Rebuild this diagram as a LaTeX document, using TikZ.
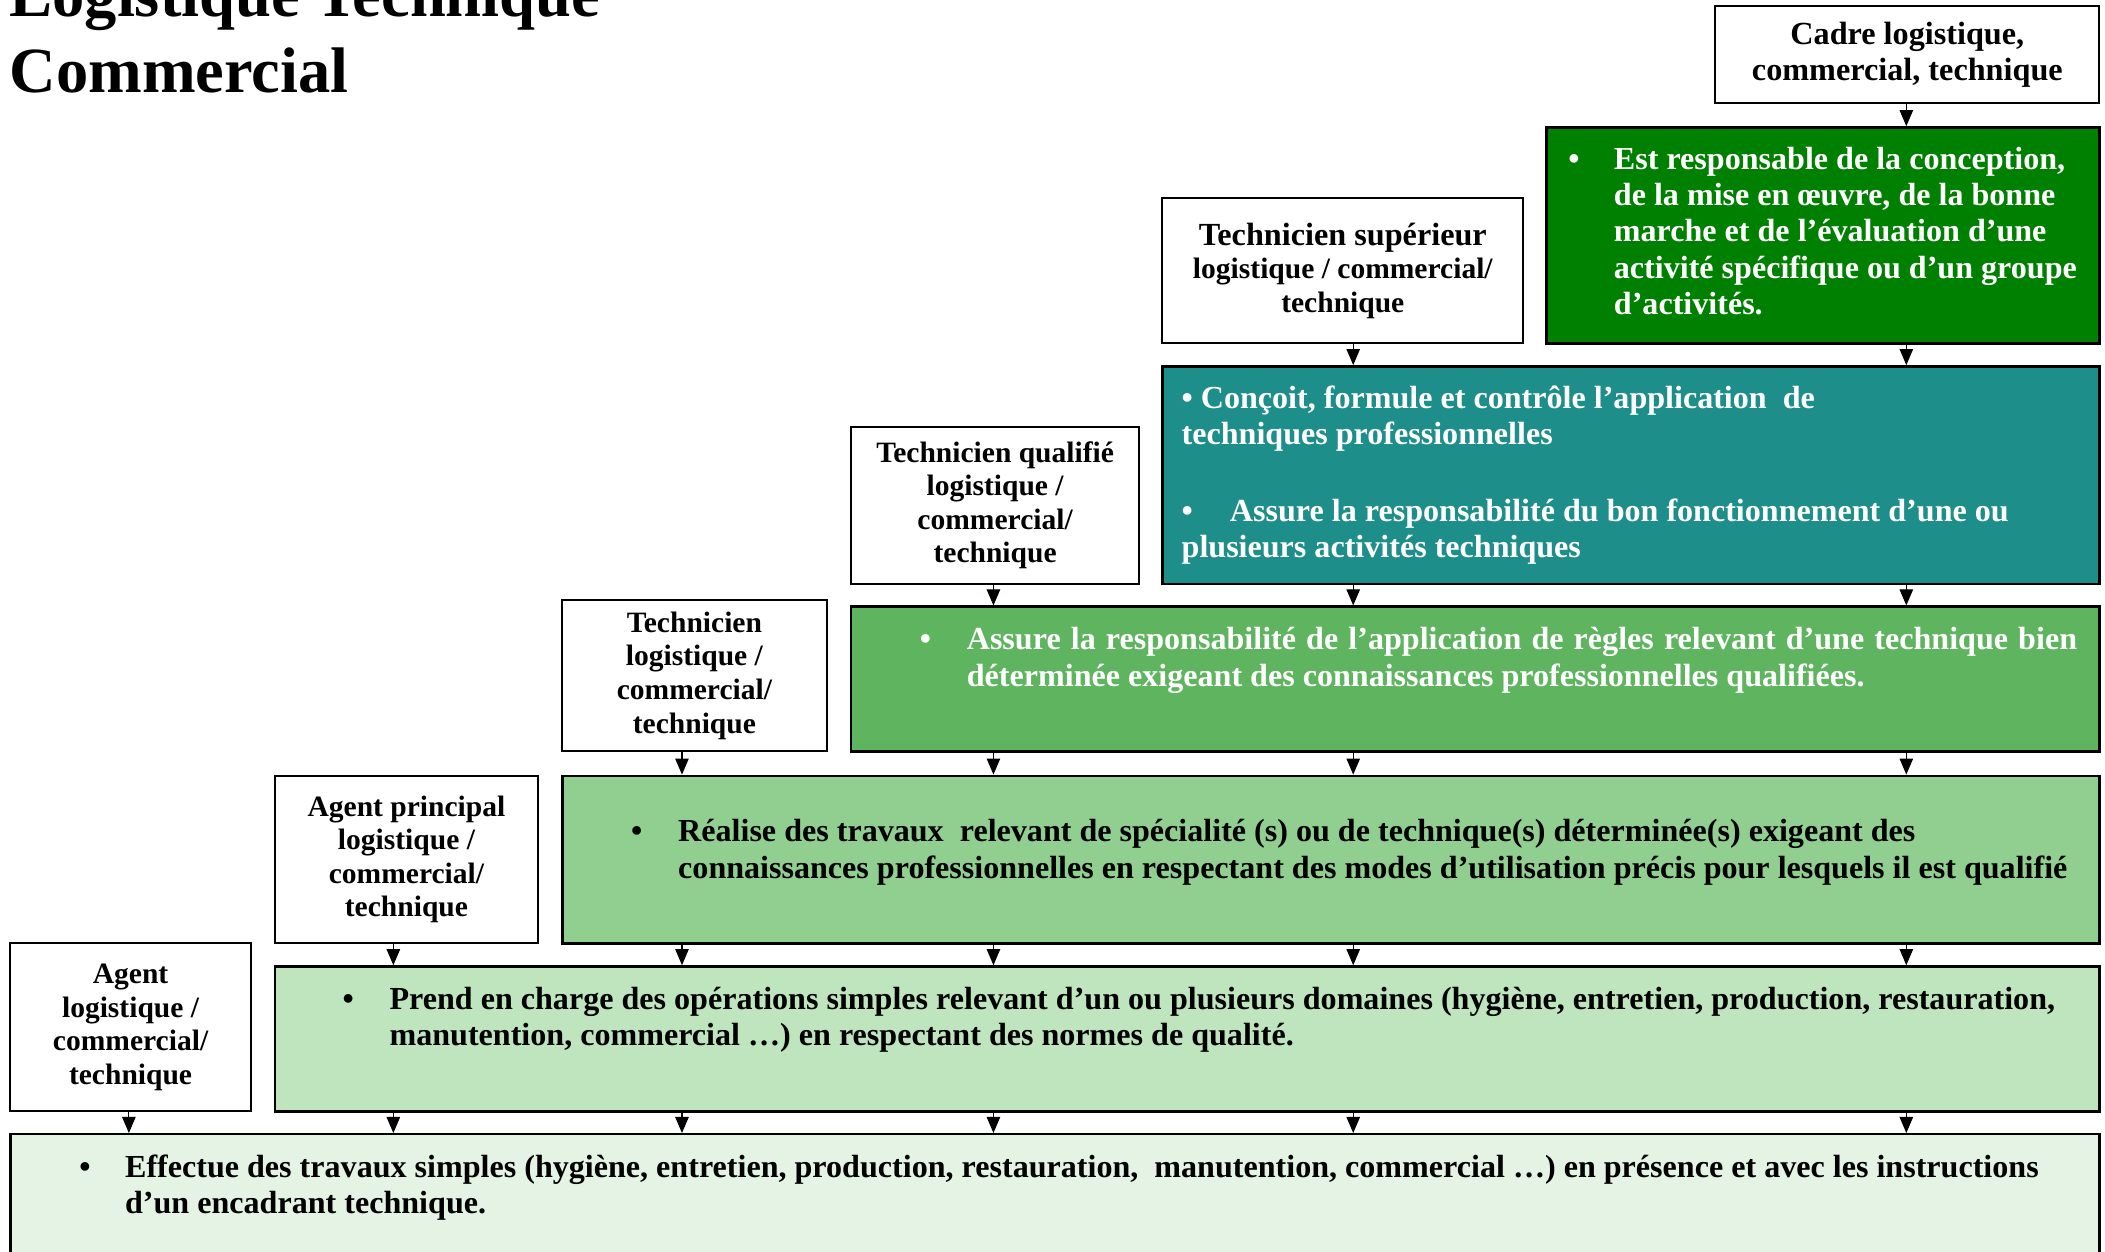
\documentclass[tikz,border=0pt]{standalone}
\usepackage{fontspec}
\setmainfont{Liberation Serif}
\usetikzlibrary{arrows.meta}
\definecolor{dkgreen}{RGB}{0,128,0}
\definecolor{tealbox}{RGB}{30,142,138}
\definecolor{gA}{RGB}{95,180,95}
\definecolor{gB}{RGB}{145,207,145}
\definecolor{gC}{RGB}{190,229,190}
\definecolor{gD}{RGB}{228,243,228}
\begin{document}
\begin{tikzpicture}[x=1pt,y=-1pt,
  lbl/.style={draw=black, line width=1.5pt, fill=white, align=center, inner sep=0pt, anchor=north west,
              font=\bfseries\fontsize{22}{25}\selectfont},
  desc/.style={draw=black, line width=1.8pt, inner sep=0pt, anchor=north west},
  dtext/.style={anchor=north west, inner sep=0pt, align=left, font=\bfseries\fontsize{23.9}{27}\selectfont},
  arr/.style={line width=0.9pt, -{Triangle[width=10pt,length=12pt]}}]
\useasboundingbox (0,0) rectangle (1568,932);
\fill[white] (0,0) rectangle (1568,932);
\clip (0,0) rectangle (1568,932);

% column coordinates
\coordinate (k1) at (96,0);
\coordinate (k2) at (293,0);
\coordinate (k3) at (508,0);
\coordinate (k4) at (740,0);
\coordinate (k5) at (1008,0);
\coordinate (k6) at (1420,0);

% title
\node[anchor=north west, inner sep=0pt, align=left, font=\bfseries\fontsize{48}{57}\selectfont] (title) at (7,-28)
  {\strut Logistique Technique\\Commercial};

% description boxes
\node[desc, fill=dkgreen, minimum width=412pt, minimum height=161pt] (dk) at (1151,94) {};
\node[desc, fill=tealbox, minimum width=698pt, minimum height=162pt] (teal) at (865,272) {};
\node[desc, fill=gA, minimum width=930pt, minimum height=108pt] (ga) at (633,451) {};
\node[desc, fill=gB, minimum width=1145pt, minimum height=125pt] (gb) at (418,577) {};
\node[desc, fill=gC, minimum width=1359pt, minimum height=108pt] (gc) at (204,719) {};
\node[desc, fill=gD, minimum width=1556pt, minimum height=130pt] (gd) at (7,844) {};

% label boxes
\node[lbl, minimum width=286pt, minimum height=72pt, font=\bfseries\fontsize{24}{27}\selectfont] (cadre) at (1277,4)
  {Cadre logistique,\\commercial, technique};
\node[lbl, minimum width=269pt, minimum height=108pt] (tsup) at (865,147)
  {{\fontsize{24}{25}\selectfont Technicien supérieur}\\logistique / commercial/\\technique};
\node[lbl, minimum width=215pt, minimum height=117pt] (tqual) at (633,317)
  {Technicien qualifié\\logistique /\\commercial/\\technique};
\node[lbl, minimum width=197pt, minimum height=113pt] (tech) at (418,446)
  {Technicien\\logistique /\\commercial/\\technique};
\node[lbl, minimum width=196pt, minimum height=125pt] (agp) at (204,577)
  {Agent principal\\logistique /\\commercial/\\technique};
\node[lbl, minimum width=179pt, minimum height=125pt] (agent) at (7,702)
  {Agent\\logistique /\\commercial/\\technique};

% description texts
\node[dtext, text=white] (dkt) at (1168,107)
  {\strut\makebox[34pt][l]{•}Est responsable de la conception,\\
   \hspace*{34pt}de la mise en œuvre, de la bonne\\
   \hspace*{34pt}marche et de l’évaluation d’une\\
   \hspace*{34pt}activité spécifique ou d’un groupe\\
   \hspace*{34pt}d’activités.};
\node[dtext, text=white] (tealt) at (880,285)
  {\strut• Conçoit, formule et contrôle l’application\ \ de\\
   techniques professionnelles\\[30pt]
   \makebox[36pt][l]{•}Assure la responsabilité du bon fonctionnement d’une ou\\
   plusieurs activités techniques};
\node[dtext, text=white] (gat) at (685,465)
  {\strut\makebox[35pt][l]{•}\makebox[827pt][s]{Assure la responsabilité de l’application de règles relevant d’une technique bien}\\
   \hspace*{35pt}déterminée exigeant des connaissances professionnelles qualifiées.};
\node[dtext] (gbt) at (470,608)
  {\strut\makebox[35pt][l]{•}Réalise des travaux\ \ relevant de spécialité (s) ou de technique(s) déterminée(s) exigeant des\\
   \hspace*{35pt}connaissances professionnelles en respectant des modes d’utilisation précis pour lesquels il est qualifié};
\node[dtext] (gct) at (255,733)
  {\strut\makebox[35pt][l]{•}Prend en charge des opérations simples relevant d’un ou plusieurs domaines (hygiène, entretien, production, restauration,\\
   \hspace*{35pt}manutention, commercial …) en respectant des normes de qualité.};
\node[dtext] (gdt) at (59,858)
  {\strut\makebox[34pt][l]{•}Effectue des travaux simples (hygiène, entretien, production, restauration,\ \ manutention, commercial …) en présence et avec les instructions\\
   \hspace*{34pt}d’un encadrant technique.};

% arrows
\draw[arr] (cadre.south -| k6) -- (dk.north -| k6);
\draw[arr] (tsup.south -| k5) -- (teal.north -| k5);
\draw[arr] (dk.south -| k6) -- (teal.north -| k6);
\draw[arr] (tqual.south -| k4) -- (ga.north -| k4);
\draw[arr] (teal.south -| k5) -- (ga.north -| k5);
\draw[arr] (teal.south -| k6) -- (ga.north -| k6);
\draw[arr] (tech.south -| k3) -- (gb.north -| k3);
\draw[arr] (ga.south -| k4) -- (gb.north -| k4);
\draw[arr] (ga.south -| k5) -- (gb.north -| k5);
\draw[arr] (ga.south -| k6) -- (gb.north -| k6);
\draw[arr] (agp.south -| k2) -- (gc.north -| k2);
\draw[arr] (gb.south -| k3) -- (gc.north -| k3);
\draw[arr] (gb.south -| k4) -- (gc.north -| k4);
\draw[arr] (gb.south -| k5) -- (gc.north -| k5);
\draw[arr] (gb.south -| k6) -- (gc.north -| k6);
\draw[arr] (agent.south -| k1) -- (gd.north -| k1);
\draw[arr] (gc.south -| k2) -- (gd.north -| k2);
\draw[arr] (gc.south -| k3) -- (gd.north -| k3);
\draw[arr] (gc.south -| k4) -- (gd.north -| k4);
\draw[arr] (gc.south -| k5) -- (gd.north -| k5);
\draw[arr] (gc.south -| k6) -- (gd.north -| k6);
\end{tikzpicture}
\end{document}
